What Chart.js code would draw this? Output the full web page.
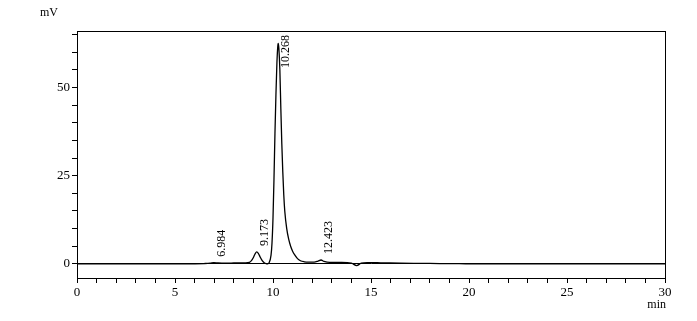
<!DOCTYPE html>
<html>
<head>
<meta charset="utf-8">
<script src="https://cdn.jsdelivr.net/npm/chart.js@4/dist/chart.umd.min.js"></script>
<style>
  html, body { margin: 0; padding: 0; background: #fff; }
  #wrap { width: 697px; height: 321px; }
</style>
</head>
<body>
<div id="wrap"><canvas id="myChart" width="697" height="321"></canvas></div>
<script>
const times = [0, 5.5, 6.5, 6.8, 6.98, 7.2, 7.6, 8.0, 8.4, 8.6, 8.8, 8.9, 9.0, 9.1, 9.17, 9.25, 9.35, 9.45, 9.55, 9.65, 9.72,
  9.8, 9.9, 9.95, 10.0, 10.05, 10.1, 10.15, 10.2, 10.25, 10.27, 10.3, 10.35, 10.4, 10.45, 10.5, 10.55, 10.6, 10.7, 10.8, 10.9,
  11.0, 11.1, 11.25, 11.4, 11.6, 11.8, 12.1, 12.3, 12.45, 12.6, 12.9, 13.5, 14.0, 14.27, 14.5, 14.8, 15.5, 16.5, 17.5, 18.5, 19.5, 20.5, 30];
const signal = [0, 0, 0.1, 0.2, 0.35, 0.25, 0.2, 0.25, 0.3, 0.3, 0.45, 0.9, 1.8, 3.0, 3.4, 3.0, 1.9, 0.9, 0.3, 0.05, 0.0,
  0.3, 2.5, 6, 13, 24, 37, 48, 57, 62, 62.5, 61, 55, 44, 34, 26, 19.5, 15, 10, 7, 5,
  3.6, 2.6, 1.5, 0.9, 0.6, 0.5, 0.5, 0.8, 1.1, 0.7, 0.4, 0.4, 0.2, -0.5, 0.2, 0.35, 0.3, 0.2, 0.15, 0.1, 0.05, 0, 0];

// Picos identificados
const peakTimes = [6.984, 9.173, 10.268, 12.423];
const peakHeights = [0.35, 3.4, 62.5, 1.1];
const peakLabels = ["6.984", "9.173", "10.268", "12.423"];

// Ticks dos eixos
const xTicks = [0,1,2,3,4,5,6,7,8,9,10,11,12,13,14,15,16,17,18,19,20,21,22,23,24,25,26,27,28,29,30];
const xLabels = [0, 5, 10, 15, 20, 25, 30];
const yTicks = [0, 5, 10, 15, 20, 25, 30, 35, 40, 45, 50, 55, 60, 65];
const yLabels = [0, 25, 50];

const serif = "'Liberation Serif', 'DejaVu Serif', serif";

const points = times.map((t, i) => ({ x: t, y: signal[i] }));

// Moldura, unidades e rótulos dos picos
const extras = {
  id: "extras",
  afterDraw(chart) {
    const { ctx, chartArea: a, scales } = chart;
    ctx.save();
    ctx.strokeStyle = "#000";
    ctx.lineWidth = 1;
    ctx.strokeRect(a.left + 0.5, a.top + 0.5, a.right - a.left, a.bottom - a.top);

    ctx.fillStyle = "#000";
    ctx.font = "12px " + serif;
    ctx.textAlign = "left";
    ctx.textBaseline = "middle";
    ctx.fillText("mV", 40, 13);
    ctx.textAlign = "right";
    ctx.fillText("min", a.right + 1, 305);

    ctx.font = "12px " + serif;
    peakTimes.forEach((t, i) => {
      const px = scales.x.getPixelForValue(t) + 8;
      const w = ctx.measureText(peakLabels[i]).width;
      let bottom = scales.y.getPixelForValue(peakHeights[i]) - 6;
      if (bottom - w < a.top + 4) bottom = a.top + 4 + w;
      ctx.save();
      ctx.translate(px, bottom);
      ctx.rotate(-Math.PI / 2);
      ctx.textAlign = "left";
      ctx.textBaseline = "middle";
      ctx.fillText(peakLabels[i], 0, 0);
      ctx.restore();
    });
    ctx.restore();
  },
};

const config = {
  type: "line",
  data: {
    datasets: [{
      data: points,
      borderColor: "#000",
      borderWidth: 1.3,
      pointRadius: 0,
      fill: false,
      cubicInterpolationMode: "monotone",
    }],
  },
  options: {
    responsive: false,
    animation: false,
    layout: { padding: { left: 30, top: 31, right: 32, bottom: 13 } },
    plugins: { legend: { display: false }, tooltip: { enabled: false } },
    scales: {
      x: {
        type: "linear",
        min: 0,
        max: 30,
        afterBuildTicks: (s) => { s.ticks = xTicks.map((v) => ({ value: v })); },
        afterFit: (s) => { s.height = 30; },
        border: { color: "#000", width: 1 },
        grid: { drawOnChartArea: false, drawTicks: true, tickLength: 5, tickColor: "#000" },
        ticks: {
          autoSkip: false,
          maxRotation: 0,
          padding: 2,
          color: "#000",
          font: { family: serif, size: 13 },
          callback: (v) => (xLabels.includes(v) ? String(v) : ""),
        },
      },
      y: {
        min: -4,
        max: 66,
        afterBuildTicks: (s) => { s.ticks = yTicks.map((v) => ({ value: v })); },
        afterFit: (s) => { s.width = 47; },
        border: { color: "#000", width: 1 },
        grid: {
          drawTicks: true,
          tickLength: 5,
          tickColor: "#000",
          color: (c) => (c.tick && c.tick.value === 0 ? "#000" : "rgba(0,0,0,0)"),
          lineWidth: 1,
        },
        ticks: {
          autoSkip: false,
          padding: 2,
          color: "#000",
          font: { family: serif, size: 13 },
          callback: (v) => (yLabels.includes(v) ? String(v) : ""),
        },
      },
    },
  },
  plugins: [extras],
};

window.onload = function () {
  const ctx = document.getElementById("myChart").getContext("2d");
  const myChart = new Chart(ctx, config);
};
</script>
</body>
</html>
